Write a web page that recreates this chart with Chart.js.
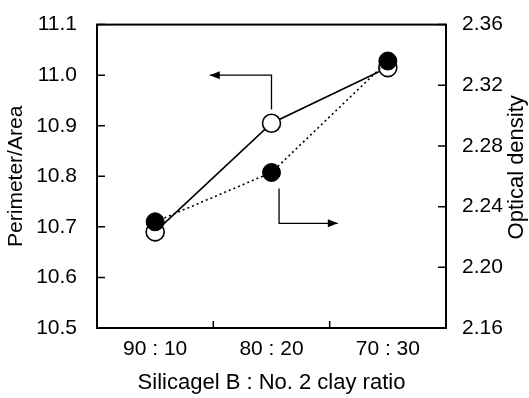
<!DOCTYPE html>
<html>
<head>
<meta charset="utf-8">
<script src="https://cdn.jsdelivr.net/npm/chart.js@4.4.0/dist/chart.umd.min.js"></script>
<style>
  html, body { margin: 0; padding: 0; background: #fff; }
  #wrap { width: 529px; height: 398px; }
</style>
</head>
<body>
<div id="wrap"><canvas id="chart" width="529" height="398"></canvas></div>
<script>
// данные графика
const ratios = ['90 : 10', '80 : 20', '70 : 30'];
const perimeterArea = [10.69, 10.905, 11.015];
const opticalDensity = [2.230, 2.2625, 2.336];
const leftTicks = [10.5, 10.6, 10.7, 10.8, 10.9, 11.0, 11.1];
const rightTicks = [2.16, 2.20, 2.24, 2.28, 2.32, 2.36];

// стрелки-указатели: [индекс категории, значение на своей оси]
const leftArrow = [[1, 10.932], [1, 11.0], [0.47, 11.0]];
const rightArrow = [[1.065, 2.252], [1.065, 2.229], [1.57, 2.229]];

const FONT = "'Liberation Sans', Arial, Helvetica, sans-serif";

function arrow(ctx, pts) {
  ctx.beginPath();
  ctx.moveTo(pts[0][0], pts[0][1]);
  for (let i = 1; i < pts.length; i++) ctx.lineTo(pts[i][0], pts[i][1]);
  ctx.stroke();
  // наконечник
  const [x1, y1] = pts[pts.length - 2];
  const [x2, y2] = pts[pts.length - 1];
  const a = Math.atan2(y2 - y1, x2 - x1);
  const len = 10, hw = 4;
  ctx.beginPath();
  ctx.moveTo(x2, y2);
  ctx.lineTo(x2 - len * Math.cos(a) + hw * Math.sin(a), y2 - len * Math.sin(a) - hw * Math.cos(a));
  ctx.lineTo(x2 - len * Math.cos(a) - hw * Math.sin(a), y2 - len * Math.sin(a) + hw * Math.cos(a));
  ctx.closePath();
  ctx.fill();
}

// рамка, внутренние засечки, стрелки и правый заголовок
const framePlugin = {
  id: 'frame',
  beforeDatasetsDraw(chart) {
    const { ctx, chartArea: ca, scales } = chart;
    ctx.save();
    ctx.strokeStyle = '#000';
    ctx.fillStyle = '#000';
    ctx.lineWidth = 2;
    ctx.strokeRect(ca.left, ca.top, ca.right - ca.left, ca.bottom - ca.top);

    ctx.lineWidth = 1.5;
    ctx.beginPath();
    leftTicks.forEach(v => {
      const y = scales.y.getPixelForValue(v);
      ctx.moveTo(ca.left, y); ctx.lineTo(ca.left + 8, y);
    });
    rightTicks.forEach(v => {
      const y = scales.y2.getPixelForValue(v);
      ctx.moveTo(ca.right, y); ctx.lineTo(ca.right - 8, y);
    });
    [0.5, 1.5].forEach(v => {
      const x = scales.x.getPixelForValue(v);
      ctx.moveTo(x, ca.bottom); ctx.lineTo(x, ca.bottom - 7);
    });
    ctx.stroke();

    ctx.lineWidth = 1.3;
    arrow(ctx, leftArrow.map(p => [scales.x.getPixelForValue(p[0]), scales.y.getPixelForValue(p[1])]));
    arrow(ctx, rightArrow.map(p => [scales.x.getPixelForValue(p[0]), scales.y2.getPixelForValue(p[1])]));
    ctx.restore();
  },
  afterDraw(chart) {
    const { ctx, chartArea: ca, scales } = chart;
    ctx.save();
    ctx.fillStyle = '#000';
    ctx.font = '22px ' + FONT;
    ctx.textAlign = 'center';
    ctx.textBaseline = 'middle';
    ctx.translate(scales.y2.right - 12, (ca.top + ca.bottom) / 2 - 9);
    ctx.rotate(-Math.PI / 2);
    ctx.fillText('Optical density', 0, 0);
    ctx.restore();
  }
};

const ctx = document.getElementById('chart').getContext('2d');
new Chart(ctx, {
  type: 'line',
  data: {
    labels: ratios,
    datasets: [
      {
        label: 'Perimeter/Area',
        data: perimeterArea,
        yAxisID: 'y',
        borderColor: '#000',
        borderWidth: 1.6,
        pointRadius: 9,
        pointBackgroundColor: '#fff',
        pointBorderColor: '#000',
        pointBorderWidth: 1.6,
        order: 2
      },
      {
        label: 'Optical density',
        data: opticalDensity,
        yAxisID: 'y2',
        borderColor: '#000',
        borderWidth: 1.6,
        borderDash: [2, 3],
        pointRadius: 9,
        pointBackgroundColor: '#000',
        pointBorderColor: '#000',
        pointBorderWidth: 1,
        order: 1
      }
    ]
  },
  options: {
    responsive: false,
    animation: false,
    layout: { padding: { top: 14 } },
    plugins: {
      legend: { display: false },
      tooltip: { enabled: false }
    },
    scales: {
      x: {
        offset: true,
        grid: { display: false },
        border: { display: false },
        ticks: { color: '#000', font: { family: FONT, size: 21 }, padding: 1, maxRotation: 0 },
        title: {
          display: true,
          text: 'Silicagel B : No. 2 clay ratio',
          color: '#000',
          font: { family: FONT, size: 22 },
          padding: { top: 0, bottom: 2 }
        },
        afterFit(s) { s.height = 70; }
      },
      y: {
        position: 'left',
        min: 10.5,
        max: 11.1,
        afterBuildTicks(s) { s.ticks = leftTicks.map(v => ({ value: v })); },
        grid: { display: false },
        border: { display: false },
        ticks: { color: '#000', font: { family: FONT, size: 21 }, padding: 12, callback: v => v.toFixed(1) },
        title: {
          display: true,
          text: 'Perimeter/Area',
          color: '#000',
          font: { family: FONT, size: 21 },
          padding: { top: 4, bottom: 0 }
        },
        afterFit(s) { s.width = 97; }
      },
      y2: {
        position: 'right',
        min: 2.16,
        max: 2.36,
        afterBuildTicks(s) { s.ticks = rightTicks.map(v => ({ value: v })); },
        grid: { display: false },
        border: { display: false },
        ticks: { color: '#000', font: { family: FONT, size: 21 }, padding: 8, callback: v => v.toFixed(2) },
        afterFit(s) { s.width = 83; }
      }
    }
  },
  plugins: [framePlugin]
});
</script>
</body>
</html>
